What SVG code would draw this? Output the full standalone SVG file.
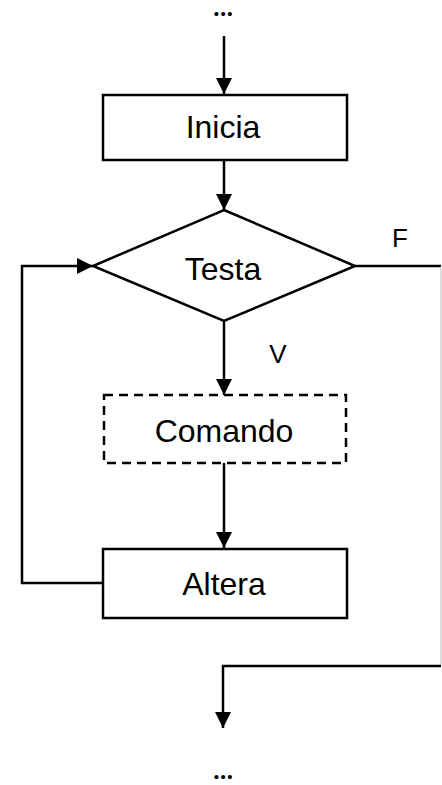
<svg xmlns="http://www.w3.org/2000/svg" width="442" height="785" viewBox="0 0 442 785">
<style>
.box{fill:#fff;stroke:#000;stroke-width:2.5}
.dash{stroke-dasharray:9,6}
.lbl{font-family:"Liberation Sans",Arial,sans-serif;font-size:32px;fill:#000;text-anchor:middle}
.small{font-family:"Liberation Sans",Arial,sans-serif;font-size:26px;fill:#000;text-anchor:middle}
.dots{font-family:"Liberation Sans",Arial,sans-serif;font-size:15px;fill:#000;text-anchor:middle;letter-spacing:1.5px}
.con{fill:none;stroke:#000;stroke-width:2.5}
</style>
<defs>
<marker id="ahb" viewBox="0 0 10 10" refX="10" refY="5" markerWidth="16" markerHeight="16" markerUnits="userSpaceOnUse" orient="auto">
<path d="M0,0 L10,5 L0,10 Z" fill="#000"/>
</marker>
</defs>
<g id="connectors">
<path class="con" d="M224,36 V94" marker-end="url(#ahb)"/>
<path class="con" d="M224,160 V210" marker-end="url(#ahb)"/>
<path class="con" d="M224,321 V395" marker-end="url(#ahb)"/>
<path class="con" d="M224,463 V548" marker-end="url(#ahb)"/>
<path class="con" d="M103,583 H22 V266 H93" marker-end="url(#ahb)"/>
<path class="con" d="M355,266 H441"/>
<path d="M441,266 V666" fill="none" stroke="#bbb" stroke-width="1"/>
<path class="con" d="M441,666 H223 V728" marker-end="url(#ahb)"/>
</g>
<g id="start"><text class="dots" x="224" y="19">•••</text></g>
<g id="inicia"><rect class="box" x="103" y="95" width="244" height="65"/><text class="lbl" x="223" y="138">Inicia</text></g>
<g id="testa"><polygon class="box" points="224,210 355,266 224,321 93,266"/><text class="lbl" x="223" y="280">Testa</text></g>
<g id="labelF"><text class="small" x="400" y="247">F</text></g>
<g id="labelV"><text class="small" x="278" y="363">V</text></g>
<g id="comando"><rect class="box dash" x="104" y="395" width="242" height="68"/><text class="lbl" x="224" y="442">Comando</text></g>
<g id="altera"><rect class="box" x="103" y="549" width="244" height="69"/><text class="lbl" x="224" y="595">Altera</text></g>
<g id="end"><text class="dots" x="224" y="782">•••</text></g>
</svg>
